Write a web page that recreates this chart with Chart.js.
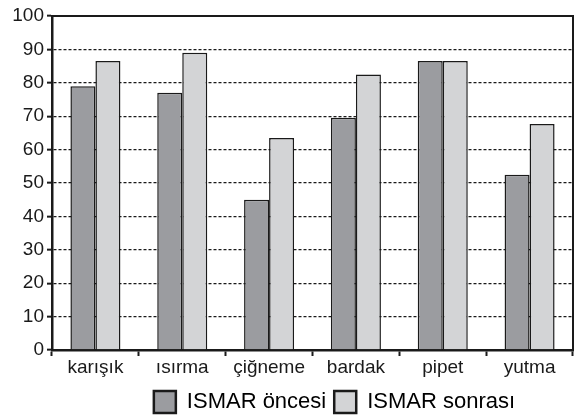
<!DOCTYPE html>
<html>
<head>
<meta charset="utf-8">
<script src="https://cdn.jsdelivr.net/npm/chart.js@4"></script>
<style>
  html, body { margin: 0; padding: 0; background: #fff; }
  #wrap { width: 577px; height: 417px; }
</style>
</head>
<body>
<div id="wrap"><canvas id="myChart" width="577" height="417"></canvas></div>
<script>
const categories = ["karışık", "ısırma", "çiğneme", "bardak", "pipet", "yutma"];
const beforeValues = [79, 77, 45, 69.5, 86.5, 52.5];
const afterValues = [86.5, 89, 63.5, 82.5, 86.5, 67.7];
const seriesNames = ["ISMAR öncesi", "ISMAR sonrası"];

const FONT = "'Liberation Sans', Arial, sans-serif";

// draws top and right edges of the plot frame
const framePlugin = {
  id: 'frame',
  afterDatasetsDraw(chart) {
    const a = chart.chartArea;
    const ctx = chart.ctx;
    ctx.save();
    ctx.strokeStyle = '#1a1a1a';
    ctx.lineWidth = 2;
    ctx.beginPath();
    ctx.moveTo(a.left, a.top);
    ctx.lineTo(a.right, a.top);
    ctx.lineTo(a.right, a.bottom);
    ctx.stroke();
    ctx.restore();
  }
};

// legend in the original sits a bit right of centre and lower
const legendShift = {
  id: 'legendShift',
  afterLayout(chart) {
    chart.legend.left += 48;
    chart.legend.right += 48;
    chart.legend.top += 6;
    chart.legend.bottom += 6;
  }
};

const data = {
  labels: categories,
  datasets: [
    {
      label: seriesNames[0],
      data: beforeValues,
      backgroundColor: '#9b9ca0',
      borderColor: '#1a1a1a',
      borderWidth: 1.5
    },
    {
      label: seriesNames[1],
      data: afterValues,
      backgroundColor: '#d3d4d6',
      borderColor: '#1a1a1a',
      borderWidth: 1.5
    }
  ]
};

const config = {
  type: 'bar',
  data: data,
  options: {
    responsive: false,
    animation: false,
    layout: { padding: { top: 16, right: 4, left: 0, bottom: 0 } },
    datasets: { bar: { barPercentage: 1, categoryPercentage: 0.576 } },
    plugins: {
      tooltip: { enabled: false },
      legend: {
        position: 'bottom',
        labels: {
          font: { family: FONT, size: 22 },
          color: '#1a1a1a',
          boxWidth: 22,
          boxHeight: 22,
          padding: 8,
          generateLabels(chart) {
            return chart.data.datasets.map((ds, i) => ({
              text: ds.label,
              fillStyle: ds.backgroundColor,
              strokeStyle: '#1a1a1a',
              lineWidth: 2.5,
              datasetIndex: i,
              hidden: false
            }));
          }
        }
      }
    },
    scales: {
      x: {
        offset: true,
        grid: {
          offset: true,
          drawOnChartArea: false,
          drawTicks: true,
          tickLength: 6,
          tickColor: '#1a1a1a',
          tickWidth: 2
        },
        border: { color: '#1a1a1a', width: 2.5 },
        ticks: {
          font: { family: FONT, size: 19 },
          color: '#1a1a1a',
          padding: 0
        },
        afterFit(scale) { scale.height = 27; }
      },
      y: {
        min: 0,
        max: 100,
        ticks: {
          stepSize: 10,
          font: { family: FONT, size: 19 },
          color: '#1a1a1a',
          padding: 3
        },
        grid: {
          color(ctx) {
            return (ctx.tick && (ctx.tick.value === 0 || ctx.tick.value === 100)) ? 'rgba(0,0,0,0)' : '#1a1a1a';
          },
          lineWidth: 1.3,
          tickLength: 5,
          tickColor: '#1a1a1a',
          tickWidth: 2
        },
        border: { color: '#1a1a1a', width: 2.5, dash: [3, 2] },
        afterFit(scale) { scale.width = 52; }
      }
    }
  },
  plugins: [framePlugin, legendShift]
};

const myChart = new Chart(document.getElementById('myChart'), config);
</script>
</body>
</html>
